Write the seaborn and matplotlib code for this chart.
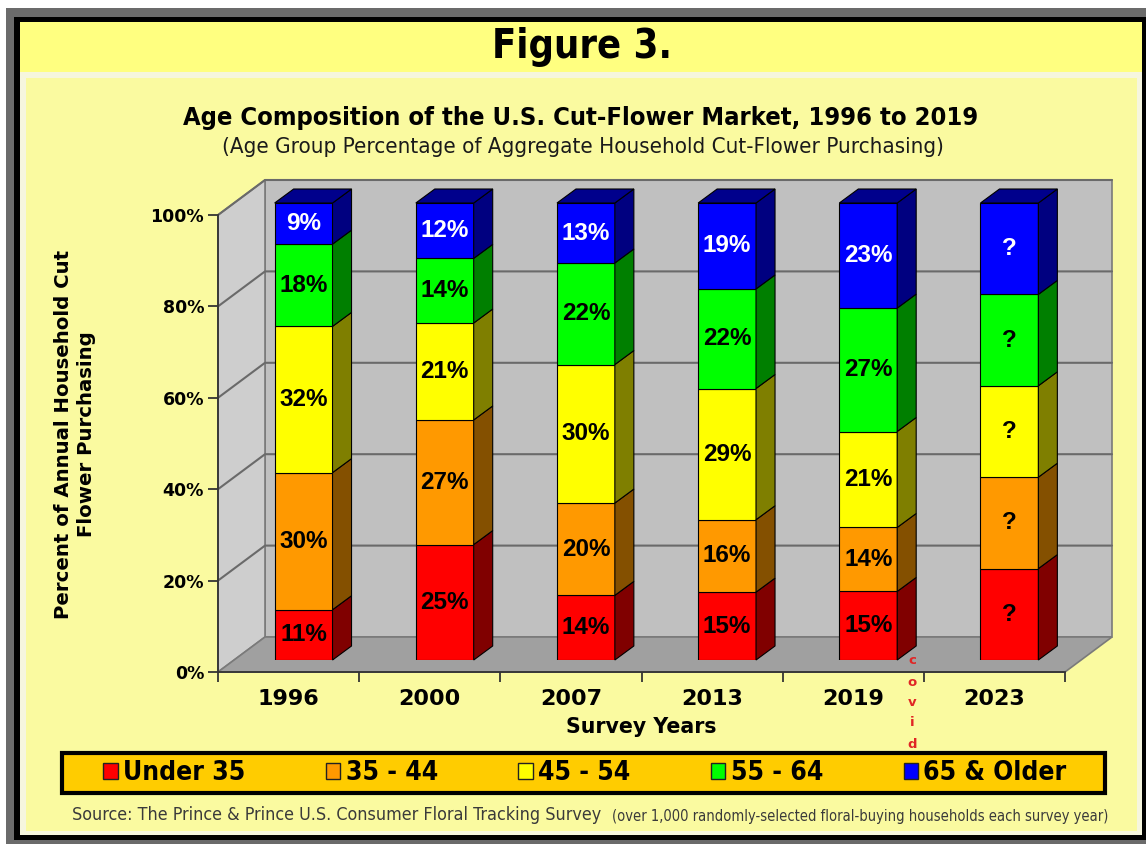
import numpy as np
import pandas as pd
import matplotlib
matplotlib.use("Agg")
import matplotlib.pyplot as plt
import seaborn as sns
from matplotlib.patches import Rectangle, Polygon, Patch
from matplotlib.transforms import Affine2D, IdentityTransform
from matplotlib.lines import Line2D

# ---------------- data ----------------
years = ['1996', '2000', '2007', '2013', '2019', '2023']
under_35 = [11, 25, 14, 15, 15, 20]
age_35_44 = [30, 27, 20, 16, 14, 20]
age_45_54 = [32, 21, 30, 29, 21, 20]
age_55_64 = [18, 14, 22, 22, 27, 20]
age_65_up = [9, 12, 13, 19, 23, 20]
unknown_years = ['2023']          # shown as "?"
group_names = ['Under 35', '35 - 44', '45 - 54', '55 - 64', '65 & Older']
y_ticks = [0, 20, 40, 60, 80, 100]
y_tick_labels = ['0%', '20%', '40%', '60%', '80%', '100%']

front_colors = ['#FF0000', '#FF9900', '#FFFF00', '#00FF00', '#0000FF']
side_colors = ['#800000', '#845000', '#7F7F00', '#007F00', '#000080']
top_color = '#00008C'
label_colors = ['black', 'black', 'black', 'black', 'white']

# ---------------- setup ----------------
sns.set_theme(style="white")
plt.rcParams['font.family'] = ['DejaVu Sans']
plt.rcParams['text.color'] = 'black'

W, H = 1146, 844
fig = plt.figure(figsize=(W / 100, H / 100), dpi=100)
fig.patch.set_facecolor('white')
PX = Affine2D().scale(1 / W, -1 / H).translate(0, 1) + fig.transFigure
renderer = fig.canvas.get_renderer()


def box(x0, y0, x1, y1, fc, z=-10, ec='none', lw=0):
    fig.add_artist(Rectangle((x0, y0), x1 - x0, y1 - y0, transform=PX,
                             fc=fc, ec=ec, lw=lw, zorder=z))


def fit(t, target, dim='w'):
    bb = t.get_window_extent(renderer)
    cur = bb.width if dim == 'w' else bb.height
    t.set_fontsize(t.get_fontsize() * target / cur)
    return t


# frame & panels
box(6, 8, W, H, '#6B6B6B', z=-20)
box(14, 17, W, 840, '#000000', z=-19)
box(20, 22, 1142, 72, '#FFFF80', z=-18)
box(20, 72, 1142, 835, '#F6F6DE', z=-18)
box(26, 78, 1137, 831, '#FAFAA0', z=-17)

# titles
fit(fig.text(582, 47, 'Figure 3.', transform=PX, ha='center', va='center',
             fontsize=24, fontweight='bold', fontstretch='condensed', color='black'), 180)
fit(fig.text(581, 118, 'Age Composition of the U.S. Cut-Flower Market, 1996 to 2019',
             transform=PX, ha='center', va='center', fontsize=15, fontweight='bold',
             fontstretch='condensed', color='black'), 795)
fit(fig.text(583, 147, '(Age Group Percentage of Aggregate Household Cut-Flower Purchasing)',
             transform=PX, ha='center', va='center', fontsize=12, fontstretch='condensed',
             color='#1a1a1a'), 723)


def ax_rect(x0, y_top, x1, y_bot):
    return [x0 / W, 1 - y_bot / H, (x1 - x0) / W, (y_bot - y_top) / H]


# front plane of the 3-D box
ax = fig.add_axes(ax_rect(218, 215, 1065, 672))
ax.patch.set_visible(False)
ax.set_xlim(-0.5, 5.5)
ax.set_ylim(0, 100)

# bars sit a bit deeper inside the box
BAR_SHIFT = (15, 12)
ax_bars = fig.add_axes(ax_rect(218 + BAR_SHIFT[0], 215 - BAR_SHIFT[1],
                               1065 + BAR_SHIFT[0], 672 - BAR_SHIFT[1]))
ax_bars.patch.set_visible(False)

DX, DY = 47, 35      # wall depth (display px)
BX, BY = 19, 14      # bar depth (display px)
ident = IdentityTransform()


def P(x, y, d=0.0):
    px, py = ax.transData.transform((x, y))
    return (px + d * DX, py + d * DY)


wall_edge = '#7A7A7A'
ax.add_patch(Polygon([P(-.5, 0, 1), P(5.5, 0, 1), P(5.5, 100, 1), P(-.5, 100, 1)],
                     closed=True, fc='#C0C0C0', ec=wall_edge, lw=1.2,
                     transform=ident, clip_on=False, zorder=0))
ax.add_patch(Polygon([P(-.5, 0, 0), P(-.5, 0, 1), P(-.5, 100, 1), P(-.5, 100, 0)],
                     closed=True, fc='#CECECE', ec=wall_edge, lw=1.2,
                     transform=ident, clip_on=False, zorder=0))
ax.add_patch(Polygon([P(-.5, 0, 0), P(5.5, 0, 0), P(5.5, 0, 1), P(-.5, 0, 1)],
                     closed=True, fc='#A0A0A0', ec=wall_edge, lw=1.2,
                     transform=ident, clip_on=False, zorder=0.5))
for v in y_ticks[1:]:
    pts = np.array([P(-.5, v, 0), P(-.5, v, 1), P(5.5, v, 1)])
    ax.add_line(Line2D(pts[:, 0], pts[:, 1], color='#6A6A6A', lw=1.5,
                       transform=ident, clip_on=False, zorder=1))

# axes lines, ticks, labels
for s in ['top', 'right']:
    ax.spines[s].set_visible(False)
for s in ['left', 'bottom']:
    ax.spines[s].set_color('#333333')
    ax.spines[s].set_linewidth(1.3)
    ax.spines[s].set_zorder(2)
ax.set_yticks(y_ticks)
ax.set_yticklabels(y_tick_labels, fontsize=12.5, fontweight='bold', color='black')
ax.tick_params(axis='y', left=True, direction='out', length=7, width=1.3,
               color='#333333', pad=3)
ax.set_xticks(np.arange(-0.5, 6, 1.0))
ax.set_xticklabels([])
ax.tick_params(axis='x', which='major', bottom=True, direction='out', length=7,
               width=1.3, color='#333333')
ax.set_xticks(np.arange(len(years)), minor=True)
ax.set_xticklabels(years, minor=True, fontsize=16, fontweight='bold', color='black')
ax.tick_params(axis='x', which='minor', bottom=True, length=0, pad=12)
ax.grid(False)

ax.set_xlabel('Survey Years', fontsize=14, fontweight='bold', color='black')
ax.xaxis.set_label_coords(0.5, (672 - 727) / 457)
ax.xaxis.label.set_va('center')
fit(ax.xaxis.label, 151)

ax.set_ylabel('Percent of Annual Household Cut\nFlower Purchasing', fontsize=14,
              fontweight='bold', color='black', linespacing=1.2)
ax.yaxis.set_label_coords((75 - 218) / 847, (672 - 434) / 457)
ax.yaxis.label.set_va('center')
fit(ax.yaxis.label, 370, dim='h')

# ---------------- stacked bars via seaborn ----------------
df = pd.DataFrame({'year': years, group_names[0]: under_35, group_names[1]: age_35_44,
                   group_names[2]: age_45_54, group_names[3]: age_55_64,
                   group_names[4]: age_65_up})
totals = df[group_names].sum(axis=1).to_numpy(dtype=float)
bottom = np.zeros(len(years))
for name, fc in zip(group_names, front_colors):
    share = df[name].to_numpy(dtype=float) / totals * 100
    sns.barplot(x=df['year'], y=share, order=years, ax=ax_bars, color=fc,
                saturation=1, width=0.41, errorbar=None, bottom=bottom.copy(),
                edgecolor='black', linewidth=0.8, zorder=3)
    bottom = bottom + share

ax_bars.set_xlim(-0.5, 5.5)
ax_bars.set_ylim(0, 100)
ax_bars.axis('off')

bars = list(ax_bars.patches)
n = len(years)
for k, name in enumerate(group_names):
    for j in range(n):
        p = bars[k * n + j]
        bb = p.get_window_extent(renderer)
        x0, y0, x1, y1 = bb.x0, bb.y0, bb.x1, bb.y1
        ax_bars.add_patch(Polygon([(x1, y0), (x1 + BX, y0 + BY), (x1 + BX, y1 + BY), (x1, y1)],
                                  closed=True, fc=side_colors[k], ec='black', lw=0.8,
                                  transform=ident, clip_on=False, zorder=3))
        if k == len(group_names) - 1:
            ax_bars.add_patch(Polygon([(x0, y1), (x0 + BX, y1 + BY), (x1 + BX, y1 + BY), (x1, y1)],
                                      closed=True, fc=top_color, ec='black', lw=0.8,
                                      transform=ident, clip_on=False, zorder=3))
        val = df[name].iloc[j]
        txt = '?' if years[j] in unknown_years else f'{val}%'
        ax_bars.text(p.get_x() + p.get_width() / 2, p.get_y() + p.get_height() / 2, txt,
                     ha='center', va='center', fontsize=17.5, fontweight='bold',
                     family=['Liberation Sans', 'DejaVu Sans'],
                     color=label_colors[k], zorder=5)

# "covid" marker
for ch, yy in zip('covid', [660, 682, 703, 723, 744]):
    fig.text(912, yy, ch, transform=PX, ha='center', va='center', fontsize=9.5,
             fontweight='bold', color='#E02525', zorder=20)

# ---------------- legend ----------------
box(62, 753, 1105, 793, '#FFCC00', z=-5, ec='black', lw=3)
handles = [Patch(fc=c, ec='#222222', lw=1) for c in front_colors]
leg = fig.legend(handles, group_names, loc='center', ncol=5, frameon=False,
                 bbox_to_anchor=(585 / W, 1 - 773 / H), bbox_transform=fig.transFigure,
                 prop={'weight': 'bold', 'size': 19, 'stretch': 'condensed'},
                 handlelength=0.55, handleheight=0.55,
                 handletextpad=0.2, columnspacing=3.05, borderpad=0)
for t in leg.get_texts():
    t.set_color('black')

# ---------------- source ----------------
fit(fig.text(72, 815, 'Source: The Prince & Prince U.S. Consumer Floral Tracking Survey',
             transform=PX, ha='left', va='center', fontsize=11, fontstretch='condensed',
             color='#3a3a3a'), 532)
fit(fig.text(612, 816, '(over 1,000 randomly-selected floral-buying households each survey year)',
             transform=PX, ha='left', va='center', fontsize=9, fontstretch='condensed',
             color='#3a3a3a'), 495)

fig.savefig('out.png', dpi=100, facecolor=fig.get_facecolor())
